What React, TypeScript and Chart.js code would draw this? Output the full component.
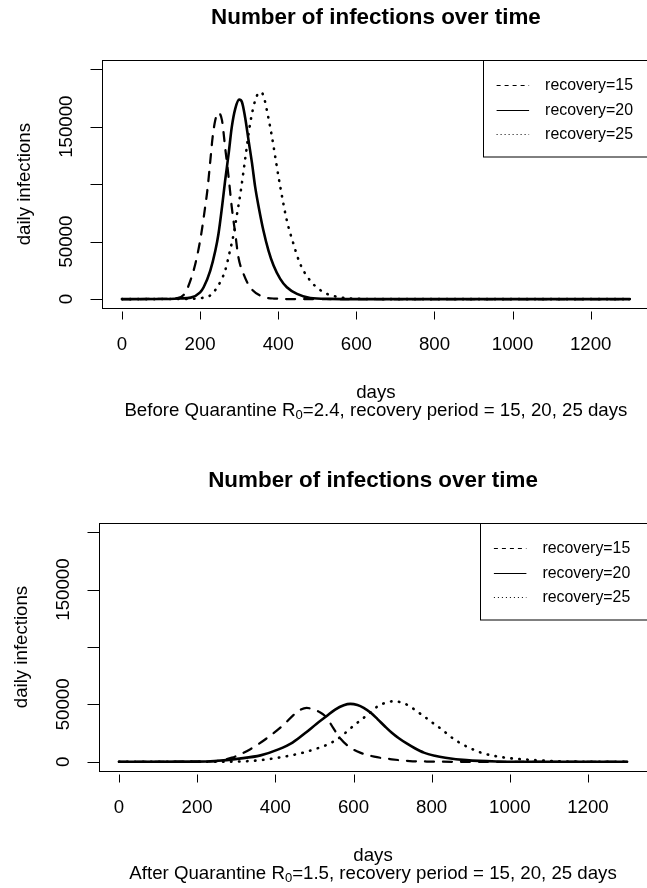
import React, { useEffect, useRef } from 'react';
import { Chart, registerables } from 'chart.js';

Chart.register(...registerables);

// ---------- data ----------
const xTickValues = [0, 200, 400, 600, 800, 1000, 1200];
const yTickValues = [0, 50000, 100000, 150000, 200000];
const yTickLabels = ['0', '50000', '', '150000', ''];
const seriesLabels = ['recovery=15', 'recovery=20', 'recovery=25'];
const mainTitle = 'Number of infections over time';
const xAxisTitle = 'days';
const yAxisTitle = 'daily infections';

// Before quarantine (R0 = 2.4)
const beforeDays15 = [0, 100, 140, 160, 179, 192, 203, 212, 219, 226, 232, 239, 246, 256, 264, 273, 281, 290, 298, 311, 328, 354, 388, 450, 1300];
const beforeVals15 = [0, 200, 800, 4500, 20000, 37000, 57000, 78000, 96000, 120000, 141000, 156000, 162000, 155500, 132000, 106000, 80000, 56800, 36400, 22000, 10300, 3000, 500, 0, 0];
const beforeDays20 = [0, 100, 150, 176, 200, 209, 226, 239, 247, 256, 264, 273, 281, 290, 300, 307, 315, 324, 333, 341, 350, 362, 375, 388, 405, 422, 448, 482, 533, 600, 1300];
const beforeVals20 = [0, 100, 600, 1300, 5900, 10300, 24800, 42200, 56800, 80000, 103000, 126500, 149600, 165700, 173500, 171500, 158400, 138000, 117800, 97400, 80000, 59700, 42200, 29200, 17600, 10300, 4500, 1000, 200, 0, 0];
const beforeDays25 = [0, 150, 204, 225, 243, 264, 275, 286, 295, 303, 316, 328, 341, 348, 356, 363, 371, 384, 395, 405, 422, 439, 456, 482, 516, 560, 620, 700, 1300];
const beforeVals25 = [0, 100, 1000, 3000, 10000, 24800, 40000, 56800, 75000, 91600, 123500, 152600, 173000, 178500, 180000, 176000, 164000, 141000, 118000, 98000, 68400, 48000, 30700, 16000, 6000, 1500, 200, 0, 0];

// After quarantine (R0 = 1.5)
const afterDays15 = [0, 200, 250, 289, 335, 380, 417, 449, 465, 480, 494, 512, 530, 548, 566, 589, 617, 653, 698, 744, 800, 900, 1300];
const afterVals15 = [0, 100, 700, 3600, 10800, 21000, 31000, 41500, 45500, 47000, 46000, 43500, 39000, 29500, 20500, 13000, 8000, 4500, 2200, 700, 200, 0, 0];
const afterDays20 = [0, 200, 244, 308, 362, 408, 444, 480, 505, 530, 553, 575, 592, 610, 626, 645, 662, 680, 698, 716, 735, 757, 780, 808, 835, 889, 970, 1050, 1300];
const afterVals20 = [0, 200, 700, 2800, 5600, 10800, 16700, 26000, 33000, 39500, 45500, 49300, 50500, 49500, 47000, 42500, 37000, 31000, 25300, 20500, 16200, 11800, 8000, 5300, 3600, 1500, 300, 0, 0];
const afterDays25 = [0, 250, 335, 408, 471, 510, 544, 568, 589, 608, 626, 645, 662, 683, 703, 724, 744, 762, 780, 803, 826, 848, 871, 898, 926, 958, 989, 1062, 1150, 1250, 1300];
const afterVals25 = [0, 100, 700, 3600, 8000, 12000, 16700, 22000, 28200, 33500, 38300, 43500, 48400, 51500, 52800, 51500, 48400, 44000, 39700, 33800, 28200, 22000, 16700, 12000, 8000, 5300, 3600, 1500, 300, 0, 0];

const beforeSub = ['Before Quarantine R', '0', '=2.4, recovery period = 15, 20, 25 days'];
const afterSub = ['After Quarantine R', '0', '=1.5, recovery period = 15, 20, 25 days'];

// ---------- styles / layout ----------
const FONT = '"Liberation Sans", Arial, Helvetica, sans-serif';
const BASE_PX = 18.67;
const CANVAS_W = 660;
const CANVAS_H = 444;
const X_MIN = -52;
const X_MAX = 1352;
const Y_MIN = -8000;
const Y_MAX = 208000;

const lineStyles = [
  { dash: [9, 9], width: 2.25, legendDash: [4, 4] },
  { dash: [], width: 2.6, legendDash: [] },
  { dash: [0.5, 7.5], width: 2.6, legendDash: [1, 3] },
];

const rStylePlugin = {
  id: 'rStyle',
  afterDraw(chart: any, _args: any, opts: any) {
    const { ctx, chartArea: a } = chart;
    const xs = chart.scales.x;
    const ys = chart.scales.y;
    const cx = (a.left + a.right) / 2;
    ctx.save();
    ctx.fillStyle = '#000';
    ctx.strokeStyle = '#000';
    ctx.setLineDash([]);
    ctx.lineCap = 'butt';
    ctx.lineWidth = 1;

    // frame
    const L = Math.round(a.left) + 0.5;
    const T = Math.round(a.top) + 0.5;
    const R = Math.round(a.right) + 0.5;
    const B = Math.round(a.bottom) + 0.5;
    ctx.strokeRect(L, T, R - L, B - T);

    // ticks
    ctx.beginPath();
    xTickValues.forEach((v) => {
      const px = Math.round(xs.getPixelForValue(v)) + 0.5;
      ctx.moveTo(px, B + 3);
      ctx.lineTo(px, B + 11);
    });
    yTickValues.forEach((v) => {
      const py = Math.round(ys.getPixelForValue(v)) + 0.5;
      ctx.moveTo(L - 12, py);
      ctx.lineTo(L, py);
    });
    ctx.stroke();

    // x tick labels
    ctx.font = `${BASE_PX}px ${FONT}`;
    ctx.textAlign = 'center';
    ctx.textBaseline = 'alphabetic';
    xTickValues.forEach((v) => {
      ctx.fillText(String(v), xs.getPixelForValue(v), a.bottom + 41.5);
    });

    // y tick labels (rotated)
    yTickValues.forEach((v, i) => {
      const lab = yTickLabels[i];
      if (!lab) return;
      ctx.save();
      ctx.translate(a.left - 30, ys.getPixelForValue(v));
      ctx.rotate(-Math.PI / 2);
      ctx.fillText(lab, 0, 0);
      ctx.restore();
    });

    // y axis title
    ctx.save();
    ctx.translate(a.left - 71.5, (a.top + a.bottom) / 2);
    ctx.rotate(-Math.PI / 2);
    ctx.fillText(yAxisTitle, 0, 0);
    ctx.restore();

    // x axis title
    ctx.fillText(xAxisTitle, cx, a.bottom + 89.5);

    // subtitle with subscript
    const [pre, sub, post] = opts.sub as string[];
    const mainFont = `${BASE_PX}px ${FONT}`;
    const subFont = `${BASE_PX * 0.7}px ${FONT}`;
    ctx.font = mainFont;
    const wPre = ctx.measureText(pre).width;
    const wPost = ctx.measureText(post).width;
    ctx.font = subFont;
    const wSub = ctx.measureText(sub).width;
    const total = wPre + wSub + wPost;
    let sx = cx - total / 2;
    const sy = a.bottom + 107.5;
    ctx.textAlign = 'left';
    ctx.font = mainFont;
    ctx.fillText(pre, sx, sy);
    sx += wPre;
    ctx.font = subFont;
    ctx.fillText(sub, sx, sy + 3.5);
    sx += wSub;
    ctx.font = mainFont;
    ctx.fillText(post, sx, sy);

    // main title
    ctx.textAlign = 'center';
    ctx.font = `bold ${BASE_PX * 1.2}px ${FONT}`;
    ctx.fillText(mainTitle, cx, a.top - 36);

    // legend
    const lgW = 167;
    const lgH = 96.5;
    const lx = Math.round(a.right - lgW) + 0.5;
    ctx.lineWidth = 1;
    ctx.strokeRect(lx, T, lgW, lgH);
    ctx.font = `15.9px ${FONT}`;
    ctx.textAlign = 'left';
    ctx.textBaseline = 'middle';
    seriesLabels.forEach((lab, i) => {
      const y = a.top + 25 + i * 24.5;
      const yy = Math.round(y) + 0.5;
      ctx.setLineDash(lineStyles[i].legendDash);
      ctx.beginPath();
      ctx.moveTo(a.right - 153.5, yy);
      ctx.lineTo(a.right - 121, yy);
      ctx.stroke();
      ctx.setLineDash([]);
      ctx.fillText(lab, a.right - 105, y + 1);
    });

    ctx.restore();
  },
};

type PanelProps = {
  days: number[][];
  vals: number[][];
  sub: string[];
  padding: { left: number; top: number; right: number; bottom: number };
  top: number;
};

function Panel({ days, vals, sub, padding, top }: PanelProps) {
  const ref = useRef<HTMLCanvasElement | null>(null);
  useEffect(() => {
    if (!ref.current) return;
    const datasets = seriesLabels.map((label, i) => ({
      label,
      data: days[i].map((d, j) => ({ x: d, y: vals[i][j] })),
      borderColor: '#000',
      backgroundColor: '#000',
      borderWidth: lineStyles[i].width,
      borderDash: lineStyles[i].dash,
      borderCapStyle: 'round' as const,
      borderJoinStyle: 'round' as const,
      pointRadius: 0,
      fill: false,
      cubicInterpolationMode: 'monotone' as const,
    }));
    const chart = new Chart(ref.current, {
      type: 'line',
      data: { datasets },
      options: {
        responsive: false,
        animation: false,
        devicePixelRatio: 1,
        layout: { padding },
        events: [],
        plugins: {
          legend: { display: false },
          tooltip: { enabled: false },
          title: { display: false },
          // @ts-ignore
          rStyle: { sub },
        },
        scales: {
          x: { type: 'linear', min: X_MIN, max: X_MAX, display: false },
          y: { type: 'linear', min: Y_MIN, max: Y_MAX, display: false },
        },
      },
      plugins: [rStylePlugin as any],
    });
    return () => chart.destroy();
  }, []);
  return (
    <canvas
      ref={ref}
      width={CANVAS_W}
      height={CANVAS_H}
      style={{ position: 'absolute', left: 0, top, width: CANVAS_W, height: CANVAS_H }}
    />
  );
}

export default function App() {
  return (
    <div
      style={{
        position: 'fixed',
        left: 0,
        top: 0,
        width: 647,
        height: 888,
        overflow: 'hidden',
        background: '#fff',
      }}
    >
      <Panel
        days={[beforeDays15, beforeDays20, beforeDays25]}
        vals={[beforeVals15, beforeVals20, beforeVals25]}
        sub={beforeSub}
        padding={{ left: 101.7, top: 60, right: CANVAS_W - 650.1, bottom: CANVAS_H - 308.3 }}
        top={0}
      />
      <Panel
        days={[afterDays15, afterDays20, afterDays25]}
        vals={[afterVals15, afterVals20, afterVals25]}
        sub={afterSub}
        padding={{ left: 98.7, top: 79, right: CANVAS_W - 647.4, bottom: CANVAS_H - 327 }}
        top={444}
      />
    </div>
  );
}
